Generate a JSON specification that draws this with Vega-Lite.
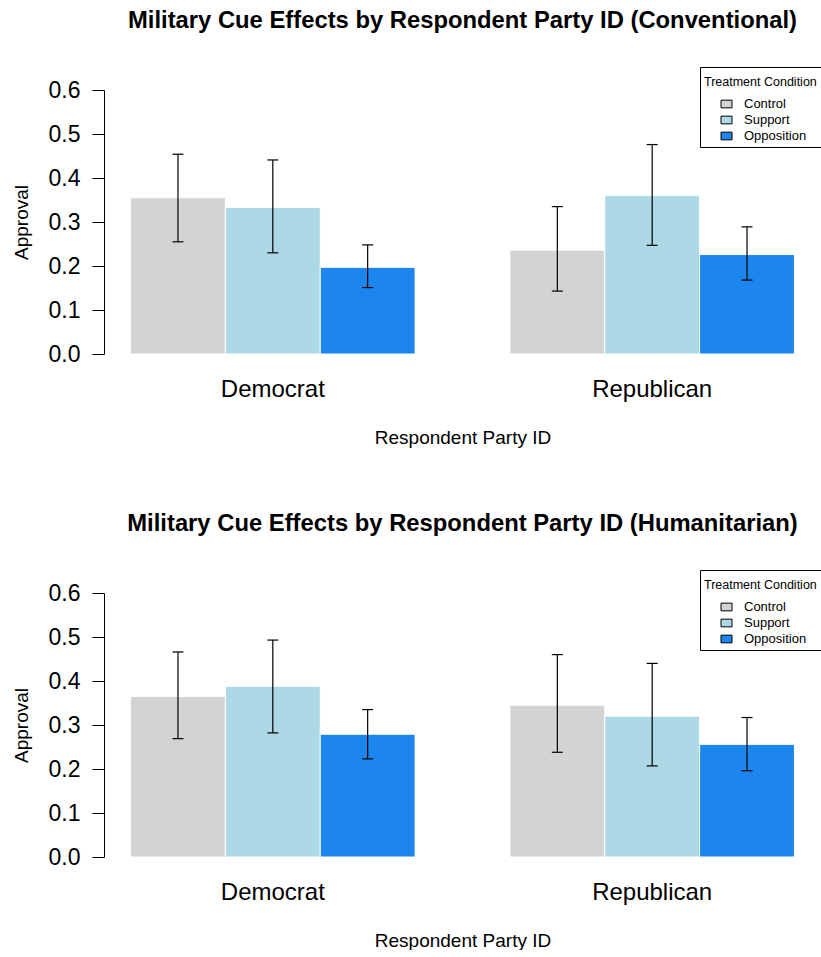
{
  "$schema": "https://vega.github.io/schema/vega-lite/v6.json",
  "background": "white",
  "padding": {"left": 12, "top": 8, "right": 0, "bottom": 0},
  "spacing": 64,
  "config": {
    "font": "Liberation Sans",
    "view": {"stroke": null},
    "axis": {"grid": false, "labelColor": "black", "titleColor": "black", "titleFontWeight": "normal"}
  },
  "datasets": {
    "approval": [
      {"Design": "Conventional", "Party": "Democrat", "Condition": "Control", "Approval": 0.355, "Lower": 0.255, "Upper": 0.454},
      {"Design": "Conventional", "Party": "Democrat", "Condition": "Support", "Approval": 0.333, "Lower": 0.230, "Upper": 0.441},
      {"Design": "Conventional", "Party": "Democrat", "Condition": "Opposition", "Approval": 0.197, "Lower": 0.151, "Upper": 0.248},
      {"Design": "Conventional", "Party": "Republican", "Condition": "Control", "Approval": 0.236, "Lower": 0.143, "Upper": 0.335},
      {"Design": "Conventional", "Party": "Republican", "Condition": "Support", "Approval": 0.360, "Lower": 0.247, "Upper": 0.476},
      {"Design": "Conventional", "Party": "Republican", "Condition": "Opposition", "Approval": 0.226, "Lower": 0.168, "Upper": 0.289},
      {"Design": "Humanitarian", "Party": "Democrat", "Condition": "Control", "Approval": 0.365, "Lower": 0.269, "Upper": 0.466},
      {"Design": "Humanitarian", "Party": "Democrat", "Condition": "Support", "Approval": 0.388, "Lower": 0.282, "Upper": 0.493},
      {"Design": "Humanitarian", "Party": "Democrat", "Condition": "Opposition", "Approval": 0.279, "Lower": 0.223, "Upper": 0.335},
      {"Design": "Humanitarian", "Party": "Republican", "Condition": "Control", "Approval": 0.345, "Lower": 0.238, "Upper": 0.460},
      {"Design": "Humanitarian", "Party": "Republican", "Condition": "Support", "Approval": 0.320, "Lower": 0.207, "Upper": 0.440},
      {"Design": "Humanitarian", "Party": "Republican", "Condition": "Opposition", "Approval": 0.256, "Lower": 0.196, "Upper": 0.317}
    ]
  },
  "resolve": {"legend": {"color": "independent"}},
  "vconcat": [
    {
      "title": {"text": "Military Cue Effects by Respondent Party ID (Conventional)", "fontSize": 23.8, "fontWeight": "bold", "color": "black", "anchor": "middle", "baseline": "alphabetic", "offset": 15},
      "width": 717,
      "height": 264,
      "data": {"name": "approval"},
      "transform": [{"filter": "datum.Design === 'Conventional'"}],
      "encoding": {
        "x": {"field": "Party", "type": "nominal", "sort": ["Democrat", "Republican"],
              "scale": {"paddingInner": 0.25, "paddingOuter": 0.07},
              "axis": {"title": "Respondent Party ID", "labelAngle": 0, "domain": false, "ticks": false, "tickSize": 0, "labelFontSize": 24, "labelPadding": 23, "titleFontSize": 19, "titlePadding": 27}},
        "xOffset": {"field": "Condition", "type": "nominal", "sort": ["Control", "Support", "Opposition"], "scale": {"paddingInner": 0, "paddingOuter": 0}}
      },
      "layer": [
        {
          "mark": {"type": "bar", "stroke": "white", "strokeWidth": 1},
          "encoding": {
            "y": {"field": "Approval", "type": "quantitative", "title": "Approval",
                  "scale": {"domain": [0, 0.6], "nice": false},
                  "axis": {"values": [0, 0.1, 0.2, 0.3, 0.4, 0.5, 0.6], "format": ".1f", "labelFontSize": 23, "tickSize": 12, "labelPadding": 12, "domainColor": "black", "tickColor": "black", "titleFontSize": 19, "titlePadding": 17}},
            "color": {"field": "Condition", "type": "nominal", "sort": ["Control", "Support", "Opposition"],
                      "scale": {"domain": ["Control", "Support", "Opposition"], "range": ["#D3D3D3", "#ADD8E6", "#1C86EE"]},
                      "legend": {"title": "Treatment Condition", "orient": "none", "legendX": 596, "legendY": -23, "padding": 4, "strokeColor": "black", "fillColor": "white", "cornerRadius": 0, "titleFontSize": 12.5, "titleFontWeight": "normal", "titleColor": "black", "titleBaseline": "line-top", "titleLineHeight": 22, "titlePadding": 14, "labelFontSize": 13, "labelColor": "black", "symbolType": "M-1,-0.7H1V0.7H-1Z", "symbolSize": 121, "symbolStrokeColor": "black", "symbolStrokeWidth": 1, "symbolOffset": 16, "labelOffset": 11, "rowPadding": 2}}
          }
        },
        {
          "mark": {"type": "rule", "color": "black", "strokeWidth": 1.2},
          "encoding": {"y": {"field": "Lower", "type": "quantitative", "title": "Approval"}, "y2": {"field": "Upper"}}
        },
        {
          "mark": {"type": "tick", "color": "black", "size": 11, "thickness": 1.2, "opacity": 1},
          "encoding": {"y": {"field": "Lower", "type": "quantitative", "title": "Approval"}}
        },
        {
          "mark": {"type": "tick", "color": "black", "size": 11, "thickness": 1.2, "opacity": 1},
          "encoding": {"y": {"field": "Upper", "type": "quantitative", "title": "Approval"}}
        }
      ]
    },
    {
      "title": {"text": "Military Cue Effects by Respondent Party ID (Humanitarian)", "fontSize": 23.8, "fontWeight": "bold", "color": "black", "anchor": "middle", "baseline": "alphabetic", "offset": 15},
      "width": 717,
      "height": 264,
      "data": {"name": "approval"},
      "transform": [{"filter": "datum.Design === 'Humanitarian'"}],
      "encoding": {
        "x": {"field": "Party", "type": "nominal", "sort": ["Democrat", "Republican"],
              "scale": {"paddingInner": 0.25, "paddingOuter": 0.07},
              "axis": {"title": "Respondent Party ID", "labelAngle": 0, "domain": false, "ticks": false, "tickSize": 0, "labelFontSize": 24, "labelPadding": 23, "titleFontSize": 19, "titlePadding": 27}},
        "xOffset": {"field": "Condition", "type": "nominal", "sort": ["Control", "Support", "Opposition"], "scale": {"paddingInner": 0, "paddingOuter": 0}}
      },
      "layer": [
        {
          "mark": {"type": "bar", "stroke": "white", "strokeWidth": 1},
          "encoding": {
            "y": {"field": "Approval", "type": "quantitative", "title": "Approval",
                  "scale": {"domain": [0, 0.6], "nice": false},
                  "axis": {"values": [0, 0.1, 0.2, 0.3, 0.4, 0.5, 0.6], "format": ".1f", "labelFontSize": 23, "tickSize": 12, "labelPadding": 12, "domainColor": "black", "tickColor": "black", "titleFontSize": 19, "titlePadding": 17}},
            "color": {"field": "Condition", "type": "nominal", "sort": ["Control", "Support", "Opposition"],
                      "scale": {"domain": ["Control", "Support", "Opposition"], "range": ["#D3D3D3", "#ADD8E6", "#1C86EE"]},
                      "legend": {"title": "Treatment Condition", "orient": "none", "legendX": 596, "legendY": -23, "padding": 4, "strokeColor": "black", "fillColor": "white", "cornerRadius": 0, "titleFontSize": 12.5, "titleFontWeight": "normal", "titleColor": "black", "titleBaseline": "line-top", "titleLineHeight": 22, "titlePadding": 14, "labelFontSize": 13, "labelColor": "black", "symbolType": "M-1,-0.7H1V0.7H-1Z", "symbolSize": 121, "symbolStrokeColor": "black", "symbolStrokeWidth": 1, "symbolOffset": 16, "labelOffset": 11, "rowPadding": 2}}
          }
        },
        {
          "mark": {"type": "rule", "color": "black", "strokeWidth": 1.2},
          "encoding": {"y": {"field": "Lower", "type": "quantitative", "title": "Approval"}, "y2": {"field": "Upper"}}
        },
        {
          "mark": {"type": "tick", "color": "black", "size": 11, "thickness": 1.2, "opacity": 1},
          "encoding": {"y": {"field": "Lower", "type": "quantitative", "title": "Approval"}}
        },
        {
          "mark": {"type": "tick", "color": "black", "size": 11, "thickness": 1.2, "opacity": 1},
          "encoding": {"y": {"field": "Upper", "type": "quantitative", "title": "Approval"}}
        }
      ]
    }
  ]
}
